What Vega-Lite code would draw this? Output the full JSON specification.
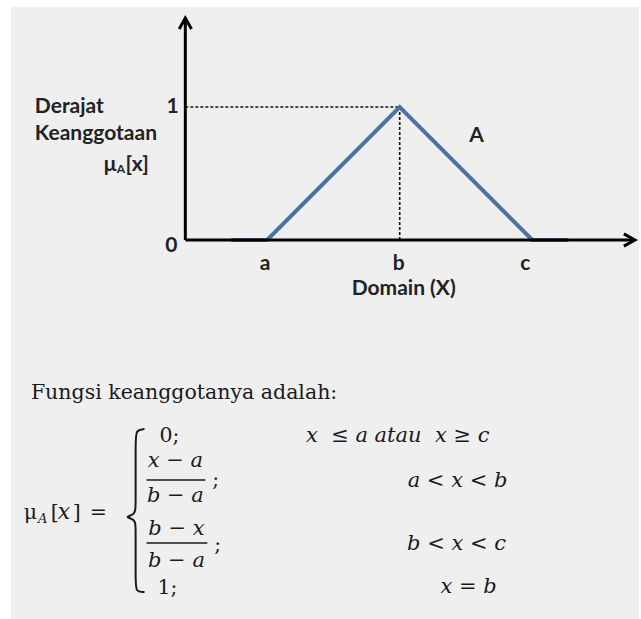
{
  "$schema": "https://vega.github.io/schema/vega-lite/v6.json",
  "width": 641,
  "height": 619,
  "autosize": {"type": "fit", "contains": "padding"},
  "padding": {"left": 11, "top": 7, "right": 0, "bottom": 0},
  "background": "white",
  "view": {"fill": "#efefef", "stroke": null},
  "datasets": {
    "membership": [
      {"i": 0, "x": 0.729, "mu": 0},
      {"i": 1, "x": 1, "mu": 0},
      {"i": 2, "x": 2, "mu": 1},
      {"i": 3, "x": 3, "mu": 0},
      {"i": 4, "x": 3.271, "mu": 0}
    ],
    "segments": [
      {"kind": "axis", "x": 0.383, "y": 0, "x2": 0.383, "y2": 1.655},
      {"kind": "axis", "x": 0.383, "y": 0, "x2": 3.765, "y2": 0},
      {"kind": "dash", "x": 0.383, "y": 1, "x2": 2, "y2": 1},
      {"kind": "dash", "x": 2, "y": 0, "x2": 2, "y2": 1},
      {"kind": "bar", "x": 0.09, "y": -1.805, "x2": 0.534, "y2": -1.805},
      {"kind": "bar", "x": 0.09, "y": -2.278, "x2": 0.549, "y2": -2.278}
    ],
    "arrows": [
      {"dir": "up", "x": 0.383, "y": 1.669},
      {"dir": "right", "x": 3.774, "y": 0}
    ],
    "brace": [
      {"i": 0, "x": 0.075, "y": -1.421},
      {"i": 1, "x": 0.008, "y": -1.429},
      {"i": 2, "x": 0.008, "y": -1.519},
      {"i": 3, "x": 0.008, "y": -1.992},
      {"i": 4, "x": 0.008, "y": -2.068},
      {"i": 5, "x": -0.083, "y": -2.083},
      {"i": 6, "x": 0.008, "y": -2.098},
      {"i": 7, "x": 0.008, "y": -2.173},
      {"i": 8, "x": 0.008, "y": -2.556},
      {"i": 9, "x": 0.008, "y": -2.647},
      {"i": 10, "x": 0.075, "y": -2.647}
    ],
    "labels": [
      {"role": "sansLeft", "text": "Derajat", "x": -0.752, "y": 0.955},
      {"role": "sansLeft", "text": "Keanggotaan", "x": -0.752, "y": 0.752},
      {"role": "sansLeft", "text": "μ", "x": -0.233, "y": 0.519},
      {"role": "sansLeft", "text": "[x]", "x": -0.068, "y": 0.519},
      {"role": "sansSub", "text": "A", "x": -0.135, "y": 0.504},
      {"role": "sansCenter", "text": "1", "x": 0.286, "y": 0.955},
      {"role": "sansCenter", "text": "0", "x": 0.278, "y": -0.09},
      {"role": "sansCenter", "text": "a", "x": 0.985, "y": -0.226},
      {"role": "sansCenter", "text": "b", "x": 1.992, "y": -0.226},
      {"role": "sansCenter", "text": "c", "x": 2.947, "y": -0.226},
      {"role": "sansCenter", "text": "Domain (X)", "x": 2.03, "y": -0.414},
      {"role": "sansCenter", "text": "A", "x": 2.579, "y": 0.737},
      {"role": "serifLeft", "text": "Fungsi keanggotanya adalah:", "x": -0.782, "y": -1.195},
      {"role": "serifLeft", "text": "μ", "x": -0.835, "y": -2.098},
      {"role": "serifLeft", "text": "[", "x": -0.632, "y": -2.098},
      {"role": "serifLeft", "text": "]", "x": -0.466, "y": -2.098},
      {"role": "serifLeft", "text": "=", "x": -0.338, "y": -2.098},
      {"role": "serifLeft", "text": "0;", "x": 0.188, "y": -1.519},
      {"role": "serifLeft", "text": "1;", "x": 0.173, "y": -2.662},
      {"role": "serifLeft", "text": ";", "x": 0.586, "y": -1.85},
      {"role": "serifLeft", "text": ";", "x": 0.602, "y": -2.338},
      {"role": "mathLeft", "text": "x", "x": -0.579, "y": -2.098},
      {"role": "mathSub", "text": "A", "x": -0.729, "y": -2.128},
      {"role": "mathCenter", "text": "x − a", "x": 0.308, "y": -1.707},
      {"role": "mathCenter", "text": "b − a", "x": 0.308, "y": -1.97},
      {"role": "mathCenter", "text": "b − x", "x": 0.316, "y": -2.218},
      {"role": "mathCenter", "text": "b − a", "x": 0.316, "y": -2.459},
      {"role": "mathCenter", "text": "x\u00a0 ≤ a atau\u00a0 x ≥ c", "x": 1.985, "y": -1.519},
      {"role": "mathCenter", "text": "a < x < b", "x": 2.436, "y": -1.857},
      {"role": "mathCenter", "text": "b < x < c", "x": 2.429, "y": -2.331},
      {"role": "mathCenter", "text": "x = b", "x": 2.519, "y": -2.654}
    ]
  },
  "encoding": {
    "x": {"field": "x", "type": "quantitative", "axis": null,
          "scale": {"domain": [-0.932, 3.805], "nice": false, "zero": false}},
    "y": {"field": "y", "type": "quantitative", "axis": null,
          "scale": {"domain": [-2.85, 1.752], "nice": false, "zero": false}}
  },
  "layer": [
    {
      "data": {"name": "segments"},
      "transform": [{"filter": "datum.kind === 'dash'"}],
      "mark": {"type": "rule", "color": "#111", "strokeWidth": 1.6, "strokeDash": [3, 2]},
      "encoding": {"x2": {"field": "x2"}, "y2": {"field": "y2"}}
    },
    {
      "data": {"name": "membership"},
      "mark": {"type": "line", "color": "#4a73a3", "strokeWidth": 4},
      "encoding": {
        "y": {"field": "mu", "type": "quantitative"},
        "order": {"field": "i", "type": "quantitative"}
      }
    },
    {
      "data": {"name": "segments"},
      "transform": [{"filter": "datum.kind === 'axis'"}],
      "mark": {"type": "rule", "color": "#000", "strokeWidth": 3},
      "encoding": {"x2": {"field": "x2"}, "y2": {"field": "y2"}}
    },
    {
      "data": {"name": "segments"},
      "transform": [{"filter": "datum.kind === 'bar'"}],
      "mark": {"type": "rule", "color": "#1a1a1a", "strokeWidth": 1.5},
      "encoding": {"x2": {"field": "x2"}, "y2": {"field": "y2"}}
    },
    {
      "data": {"name": "arrows"},
      "transform": [{"filter": "datum.dir === 'up'"}],
      "mark": {"type": "point", "shape": "M-1,1.8L0,0L1,1.8", "size": 150, "filled": false,
               "stroke": "#000", "strokeWidth": 3, "opacity": 1}
    },
    {
      "data": {"name": "arrows"},
      "transform": [{"filter": "datum.dir === 'right'"}],
      "mark": {"type": "point", "shape": "M-1.8,-1L0,0L-1.8,1", "size": 150, "filled": false,
               "stroke": "#000", "strokeWidth": 3, "opacity": 1}
    },
    {
      "data": {"name": "brace"},
      "mark": {"type": "line", "color": "#1a1a1a", "strokeWidth": 2, "interpolate": "basis"},
      "encoding": {"order": {"field": "i", "type": "quantitative"}}
    },
    {
      "data": {"name": "labels"},
      "transform": [{"filter": "datum.role === 'sansLeft'"}],
      "mark": {"type": "text", "font": "Lato", "fontWeight": "bold", "fontSize": 21,
               "align": "left", "baseline": "alphabetic", "color": "#222"},
      "encoding": {"text": {"field": "text"}}
    },
    {
      "data": {"name": "labels"},
      "transform": [{"filter": "datum.role === 'sansSub'"}],
      "mark": {"type": "text", "font": "Lato", "fontWeight": "bold", "fontSize": 12,
               "align": "left", "baseline": "alphabetic", "color": "#222"},
      "encoding": {"text": {"field": "text"}}
    },
    {
      "data": {"name": "labels"},
      "transform": [{"filter": "datum.role === 'sansCenter'"}],
      "mark": {"type": "text", "font": "Lato", "fontWeight": "bold", "fontSize": 21,
               "align": "center", "baseline": "alphabetic", "color": "#222"},
      "encoding": {"text": {"field": "text"}}
    },
    {
      "data": {"name": "labels"},
      "transform": [{"filter": "datum.role === 'serifLeft'"}],
      "mark": {"type": "text", "font": "DejaVu Serif", "fontSize": 20.5,
               "align": "left", "baseline": "alphabetic", "color": "#1a1a1a"},
      "encoding": {"text": {"field": "text"}}
    },
    {
      "data": {"name": "labels"},
      "transform": [{"filter": "datum.role === 'mathLeft'"}],
      "mark": {"type": "text", "font": "DejaVu Serif", "fontStyle": "italic", "fontSize": 22,
               "align": "left", "baseline": "alphabetic", "color": "#1a1a1a"},
      "encoding": {"text": {"field": "text"}}
    },
    {
      "data": {"name": "labels"},
      "transform": [{"filter": "datum.role === 'mathSub'"}],
      "mark": {"type": "text", "font": "DejaVu Serif", "fontStyle": "italic", "fontSize": 13,
               "align": "left", "baseline": "alphabetic", "color": "#1a1a1a"},
      "encoding": {"text": {"field": "text"}}
    },
    {
      "data": {"name": "labels"},
      "transform": [{"filter": "datum.role === 'mathCenter'"}],
      "mark": {"type": "text", "font": "DejaVu Serif", "fontStyle": "italic", "fontSize": 21,
               "align": "center", "baseline": "alphabetic", "color": "#1a1a1a"},
      "encoding": {"text": {"field": "text"}}
    }
  ]
}
